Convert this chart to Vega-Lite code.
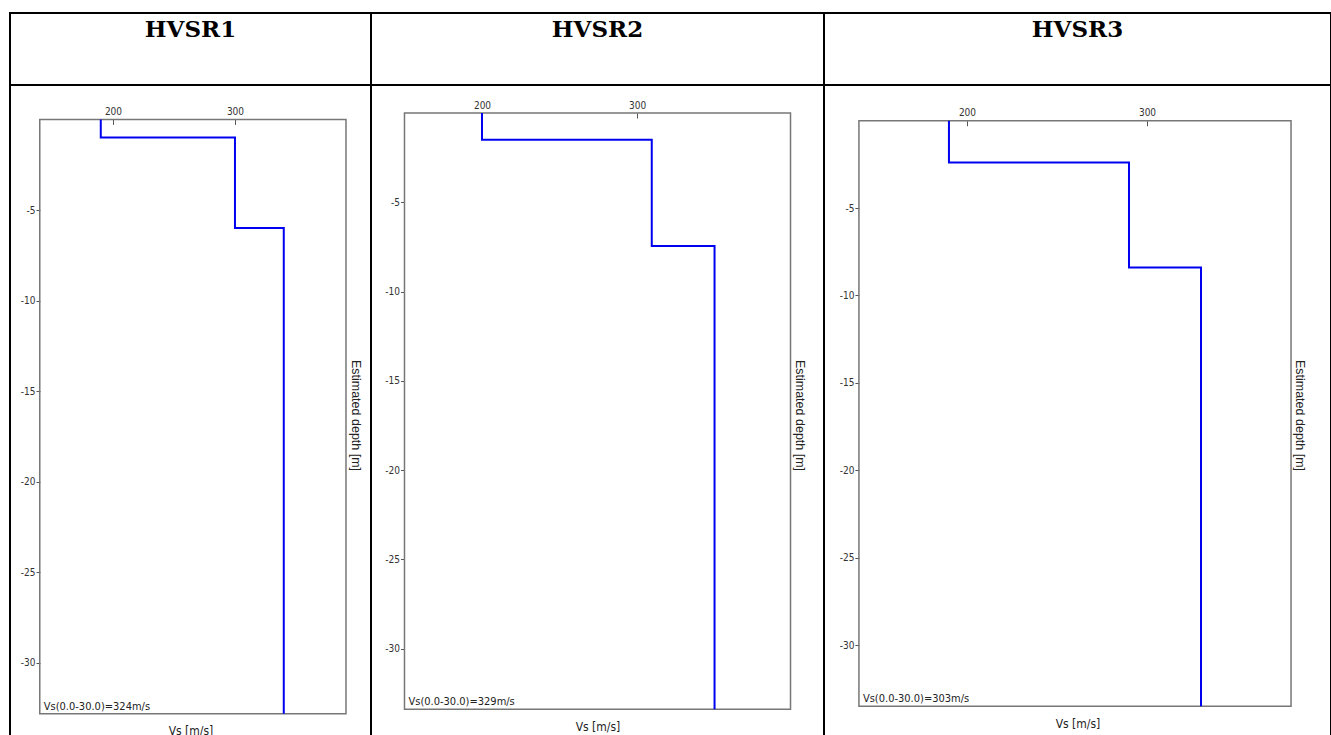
{
  "$schema": "https://vega.github.io/schema/vega-lite/v6.json",
  "padding": {"left": 9, "top": 12, "right": 0, "bottom": 0},
  "background": "white",
  "config": {
    "view": {"stroke": "#000", "strokeWidth": 2},
    "style": {"view": {"stroke": "#000", "strokeWidth": 2}},
    "axis": {"grid": false, "domain": false, "labelFont": "Liberation Sans Narrow, DejaVu Sans Condensed, Roboto Condensed, sans-serif", "labelFontSize": 10, "labelColor": "#333", "tickColor": "#555", "titleFontWeight": "normal", "titleColor": "#222", "labelExpr": "replace(datum.label, '−', '-')"}
  },
  "datasets": {
    "headers": [{"panel": "HVSR1"}, {"panel": "HVSR2"}, {"panel": "HVSR3"}],
    "frames": [
      {"panel": "HVSR1", "vmin": 140, "vmax": 391, "dtop": 0, "dbottom": -32.8},
      {"panel": "HVSR2", "vmin": 150, "vmax": 399, "dtop": 0, "dbottom": -33.4},
      {"panel": "HVSR3", "vmin": 140, "vmax": 380, "dtop": 0, "dbottom": -33.5}
    ],
    "profiles": [
      {"panel": "HVSR1", "seq": 1, "vs": 190, "depth": 0},
      {"panel": "HVSR1", "seq": 2, "vs": 190, "depth": -1},
      {"panel": "HVSR1", "seq": 3, "vs": 300, "depth": -1},
      {"panel": "HVSR1", "seq": 4, "vs": 300, "depth": -6},
      {"panel": "HVSR1", "seq": 5, "vs": 340, "depth": -6},
      {"panel": "HVSR1", "seq": 6, "vs": 340, "depth": -32.8},
      {"panel": "HVSR2", "seq": 1, "vs": 200, "depth": 0},
      {"panel": "HVSR2", "seq": 2, "vs": 200, "depth": -1.5},
      {"panel": "HVSR2", "seq": 3, "vs": 309.5, "depth": -1.5},
      {"panel": "HVSR2", "seq": 4, "vs": 309.5, "depth": -7.45},
      {"panel": "HVSR2", "seq": 5, "vs": 350, "depth": -7.45},
      {"panel": "HVSR2", "seq": 6, "vs": 350, "depth": -33.4},
      {"panel": "HVSR3", "seq": 1, "vs": 190, "depth": 0},
      {"panel": "HVSR3", "seq": 2, "vs": 190, "depth": -2.4},
      {"panel": "HVSR3", "seq": 3, "vs": 290, "depth": -2.4},
      {"panel": "HVSR3", "seq": 4, "vs": 290, "depth": -8.4},
      {"panel": "HVSR3", "seq": 5, "vs": 330, "depth": -8.4},
      {"panel": "HVSR3", "seq": 6, "vs": 330, "depth": -33.5}
    ],
    "notes": [
      {"panel": "HVSR1", "vs": 140, "depth": -32.8, "label": "Vs(0.0-30.0)=324m/s"},
      {"panel": "HVSR2", "vs": 150, "depth": -33.4, "label": "Vs(0.0-30.0)=329m/s"},
      {"panel": "HVSR3", "vs": 140, "depth": -33.5, "label": "Vs(0.0-30.0)=303m/s"}
    ]
  },
  "columns": 3,
  "spacing": 0,
  "bounds": "flush",
  "concat": [
    {
      "width": 361, "height": 72,
      "view": {"stroke": "#000", "strokeWidth": 2},
      "data": {"name": "headers"},
      "transform": [{"filter": "datum.panel == 'HVSR1'"}],
      "mark": {"type": "text", "font": "DejaVu Serif", "fontWeight": "bold", "fontSize": 23, "dy": -19, "color": "#000"},
      "encoding": {"text": {"field": "panel"}}
    },
    {
      "width": 453, "height": 72,
      "view": {"stroke": "#000", "strokeWidth": 2},
      "data": {"name": "headers"},
      "transform": [{"filter": "datum.panel == 'HVSR2'"}],
      "mark": {"type": "text", "font": "DejaVu Serif", "fontWeight": "bold", "fontSize": 23, "dy": -19, "color": "#000"},
      "encoding": {"text": {"field": "panel"}}
    },
    {
      "width": 507, "height": 72,
      "view": {"stroke": "#000", "strokeWidth": 2},
      "data": {"name": "headers"},
      "transform": [{"filter": "datum.panel == 'HVSR3'"}],
      "mark": {"type": "text", "font": "DejaVu Serif", "fontWeight": "bold", "fontSize": 23, "dy": -19, "color": "#000"},
      "encoding": {"text": {"field": "panel"}}
    },
    {
      "width": 361, "height": 660,
      "layer": [
        {
          "data": {"name": "frames"},
          "transform": [{"filter": "datum.panel == 'HVSR1'"}],
          "mark": {"type": "rect", "filled": false, "stroke": "#777", "strokeWidth": 1.5},
          "encoding": {
            "x": {"field": "vmin", "type": "quantitative", "scale": {"domain": [115.6, 411.5], "nice": false, "zero": false},
                  "axis": {"orient": "top", "values": [200, 300], "offset": -34.4, "tickSize": -5, "labelPadding": 8, "title": null}},
            "x2": {"field": "vmax"},
            "y": {"field": "dtop", "type": "quantitative", "scale": {"domain": [-34.53, 1.9], "nice": false, "zero": false},
                  "axis": {"orient": "left", "values": [-5, -10, -15, -20, -25, -30], "offset": -30, "tickSize": 4, "labelPadding": 1, "title": null}},
            "y2": {"field": "dbottom"}
          }
        },
        {
          "data": {"name": "profiles"},
          "transform": [{"filter": "datum.panel == 'HVSR1'"}],
          "mark": {"type": "line", "color": "#0000f0", "strokeWidth": 2},
          "encoding": {
            "x": {"field": "vs", "type": "quantitative", "scale": {"domain": [115.6, 411.5], "nice": false, "zero": false},
                  "axis": {"orient": "bottom", "offset": -31.2, "labels": false, "ticks": false, "title": "Vs [m/s]", "titlePadding": 12, "titleFontSize": 12, "titleFont": "Liberation Sans Narrow, DejaVu Sans Condensed, sans-serif"}},
            "y": {"field": "depth", "type": "quantitative", "scale": {"domain": [-34.53, 1.9], "nice": false, "zero": false},
                  "axis": {"orient": "right", "offset": -25, "labels": false, "ticks": false, "title": "Estimated depth [m]", "titleAngle": 90, "titlePadding": 2, "titleFontSize": 12.5, "titleFont": "Liberation Sans, sans-serif"}},
            "order": {"field": "seq", "type": "quantitative"}
          }
        },
        {
          "data": {"name": "notes"},
          "transform": [{"filter": "datum.panel == 'HVSR1'"}],
          "mark": {"type": "text", "align": "left", "baseline": "bottom", "dx": 4, "dy": -2, "fontSize": 11, "font": "Liberation Sans Narrow, DejaVu Sans Condensed, sans-serif", "color": "#222"},
          "encoding": {
            "x": {"field": "vs", "type": "quantitative", "scale": {"domain": [115.6, 411.5], "nice": false, "zero": false}, "axis": null},
            "y": {"field": "depth", "type": "quantitative", "scale": {"domain": [-34.53, 1.9], "nice": false, "zero": false}, "axis": null},
            "text": {"field": "label"}
          }
        }
      ],
      "resolve": {"axis": {"x": "independent", "y": "independent"}}
    },
    {
      "width": 453, "height": 660,
      "layer": [
        {
          "data": {"name": "frames"},
          "transform": [{"filter": "datum.panel == 'HVSR2'"}],
          "mark": {"type": "rect", "filled": false, "stroke": "#777", "strokeWidth": 1.5},
          "encoding": {
            "x": {"field": "vmin", "type": "quantitative", "scale": {"domain": [128.4, 420.6], "nice": false, "zero": false},
                  "axis": {"orient": "top", "values": [200, 300], "offset": -28, "tickSize": -5, "labelPadding": 8, "title": null}},
            "x2": {"field": "vmax"},
            "y": {"field": "dtop", "type": "quantitative", "scale": {"domain": [-35.4, 1.57], "nice": false, "zero": false},
                  "axis": {"orient": "left", "values": [-5, -10, -15, -20, -25, -30], "offset": -33.5, "tickSize": 4, "labelPadding": 1, "title": null}},
            "y2": {"field": "dbottom"}
          }
        },
        {
          "data": {"name": "profiles"},
          "transform": [{"filter": "datum.panel == 'HVSR2'"}],
          "mark": {"type": "line", "color": "#0000f0", "strokeWidth": 2},
          "encoding": {
            "x": {"field": "vs", "type": "quantitative", "scale": {"domain": [128.4, 420.6], "nice": false, "zero": false},
                  "axis": {"orient": "bottom", "offset": -35.8, "labels": false, "ticks": false, "title": "Vs [m/s]", "titlePadding": 12, "titleFontSize": 12, "titleFont": "Liberation Sans Narrow, DejaVu Sans Condensed, sans-serif"}},
            "y": {"field": "depth", "type": "quantitative", "scale": {"domain": [-35.4, 1.57], "nice": false, "zero": false},
                  "axis": {"orient": "right", "offset": -33.6, "labels": false, "ticks": false, "title": "Estimated depth [m]", "titleAngle": 90, "titlePadding": 2, "titleFontSize": 12.5, "titleFont": "Liberation Sans, sans-serif"}},
            "order": {"field": "seq", "type": "quantitative"}
          }
        },
        {
          "data": {"name": "notes"},
          "transform": [{"filter": "datum.panel == 'HVSR2'"}],
          "mark": {"type": "text", "align": "left", "baseline": "bottom", "dx": 4, "dy": -2, "fontSize": 11, "font": "Liberation Sans Narrow, DejaVu Sans Condensed, sans-serif", "color": "#222"},
          "encoding": {
            "x": {"field": "vs", "type": "quantitative", "scale": {"domain": [128.4, 420.6], "nice": false, "zero": false}, "axis": null},
            "y": {"field": "depth", "type": "quantitative", "scale": {"domain": [-35.4, 1.57], "nice": false, "zero": false}, "axis": null},
            "text": {"field": "label"}
          }
        }
      ],
      "resolve": {"axis": {"x": "independent", "y": "independent"}}
    },
    {
      "width": 507, "height": 660,
      "layer": [
        {
          "data": {"name": "frames"},
          "transform": [{"filter": "datum.panel == 'HVSR3'"}],
          "mark": {"type": "rect", "filled": false, "stroke": "#777", "strokeWidth": 1.5},
          "encoding": {
            "x": {"field": "vmin", "type": "quantitative", "scale": {"domain": [120.6, 402.2], "nice": false, "zero": false},
                  "axis": {"orient": "top", "values": [200, 300], "offset": -35.7, "tickSize": -5, "labelPadding": 8, "title": null}},
            "x2": {"field": "vmax"},
            "y": {"field": "dtop", "type": "quantitative", "scale": {"domain": [-35.72, 2.04], "nice": false, "zero": false},
                  "axis": {"orient": "left", "values": [-5, -10, -15, -20, -25, -30], "offset": -34.9, "tickSize": 4, "labelPadding": 1, "title": null}},
            "y2": {"field": "dbottom"}
          }
        },
        {
          "data": {"name": "profiles"},
          "transform": [{"filter": "datum.panel == 'HVSR3'"}],
          "mark": {"type": "line", "color": "#0000f0", "strokeWidth": 2},
          "encoding": {
            "x": {"field": "vs", "type": "quantitative", "scale": {"domain": [120.6, 402.2], "nice": false, "zero": false},
                  "axis": {"orient": "bottom", "offset": -38.8, "labels": false, "ticks": false, "title": "Vs [m/s]", "titlePadding": 12, "titleFontSize": 12, "titleFont": "Liberation Sans Narrow, DejaVu Sans Condensed, sans-serif"}},
            "y": {"field": "depth", "type": "quantitative", "scale": {"domain": [-35.72, 2.04], "nice": false, "zero": false},
                  "axis": {"orient": "right", "offset": -40.1, "labels": false, "ticks": false, "title": "Estimated depth [m]", "titleAngle": 90, "titlePadding": 2, "titleFontSize": 12.5, "titleFont": "Liberation Sans, sans-serif"}},
            "order": {"field": "seq", "type": "quantitative"}
          }
        },
        {
          "data": {"name": "notes"},
          "transform": [{"filter": "datum.panel == 'HVSR3'"}],
          "mark": {"type": "text", "align": "left", "baseline": "bottom", "dx": 4, "dy": -2, "fontSize": 11, "font": "Liberation Sans Narrow, DejaVu Sans Condensed, sans-serif", "color": "#222"},
          "encoding": {
            "x": {"field": "vs", "type": "quantitative", "scale": {"domain": [120.6, 402.2], "nice": false, "zero": false}, "axis": null},
            "y": {"field": "depth", "type": "quantitative", "scale": {"domain": [-35.72, 2.04], "nice": false, "zero": false}, "axis": null},
            "text": {"field": "label"}
          }
        }
      ],
      "resolve": {"axis": {"x": "independent", "y": "independent"}}
    }
  ]
}
